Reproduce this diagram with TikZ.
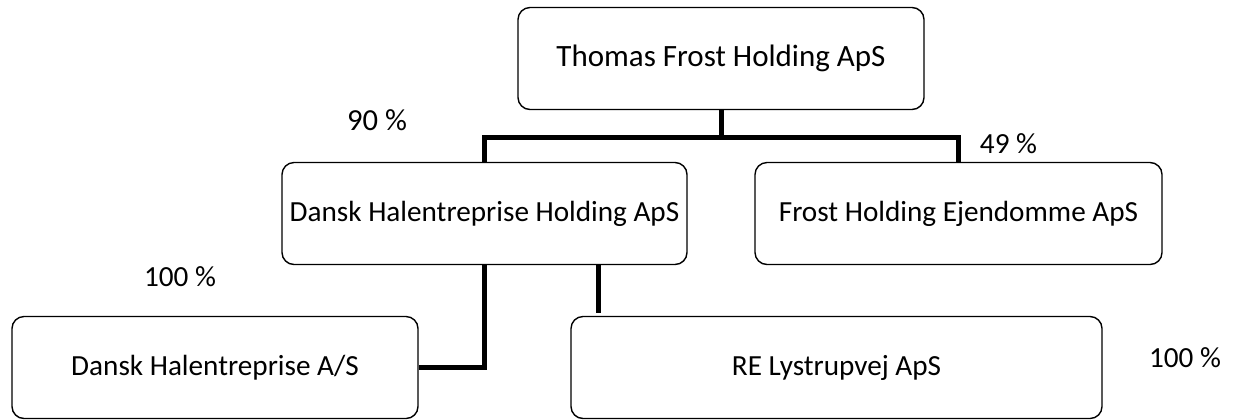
\documentclass[tikz,border=0pt]{standalone}
\usepackage{fontspec}
\setmainfont{Carlito}
\usepackage{tikz}

\begin{document}
\begin{tikzpicture}[x=0.5pt,y=-0.5pt,
    firm/.style={draw,line width=0.7pt,rounded corners=6pt,minimum height=51pt,
      inner sep=0pt,font=\fontsize{14.6}{17}\selectfont},
    share/.style={font=\fontsize{14.6}{17}\selectfont},
    link/.style={line width=2.5pt}]
      \useasboundingbox (0,0) rectangle (1235,419);
      \node [firm,minimum width=203pt,font=\fontsize{15.5}{18}\selectfont] (top) at (721,58.5) {Thomas Frost Holding ApS};
      \node [firm,minimum width=202.5pt] (hold) at (484.5,213.5) {Dansk Halentreprise Holding ApS};
      \node [firm,minimum width=203.5pt] (ejd) at (958.5,213.5) {Frost Holding Ejendomme ApS};
      \node [firm,minimum width=203pt] (dha) at (215,367.5) {Dansk Halentreprise A/S};
      \node [firm,minimum width=265.5pt] (rel) at (836.5,367.5) {RE Lystrupvej ApS};
      \coordinate (split) at (721,137);
      \coordinate (retop) at (598,313);
      \draw [link] (top.south) -- (split) -| (hold.north);
      \draw [link] (split) -| (ejd.north);
      \draw [link] (hold.south) |- (dha.east);
      \draw [link] (retop |- hold.south) -- (retop);
      \node [share,font=\fontsize{15.3}{18}\selectfont] (p90) at (377,120) {90 \%};
      \node [share] (p49) at (1008.5,144) {49 \%};
      \node [share] (p100a) at (180,277) {100 \%};
      \node [share] (p100b) at (1185,358) {100 \%};
    \end{tikzpicture}
\end{document}
